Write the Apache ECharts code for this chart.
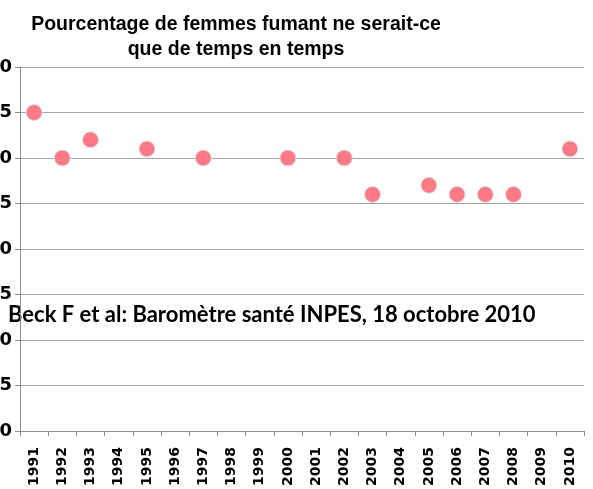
<!DOCTYPE html>
<html><head><meta charset="utf-8">
<script src="https://cdn.jsdelivr.net/npm/echarts@6/dist/echarts.min.js"></script>
<style>html,body{margin:0;padding:0;background:#fff}#c{width:593px;height:489px}</style>
</head><body><div id="c"></div>
<script>
const years = ['1991','1992','1993','1994','1995','1996','1997','1998','1999','2000','2001','2002','2003','2004','2005','2006','2007','2008','2009','2010'];
const values = [35, 30, 32, null, 31, null, 30, null, null, 30, null, 30, 26, null, 27, 26, 26, 26, null, 31];
const yMin = 0, yMax = 40, yStep = 5;
const titleText = 'Pourcentage de femmes fumant ne serait-ce\nque de temps en temps';
const sourceText = 'Beck F et al: Baromètre santé INPES, 18 octobre 2010';

const chart = echarts.init(document.getElementById('c'));
chart.setOption({
  animation: false,
  title: {
    text: titleText, left: 231, top: 7, textAlign: 'center',
    textStyle: {fontFamily: 'Liberation Sans, Arial', fontWeight: 'bold', fontSize: 19.5, lineHeight: 25, color: '#000'}
  },
  grid: {left: 20, right: 9, top: 67, bottom: 58, containLabel: false, outerBoundsMode: 'none'},
  xAxis: {
    type: 'category', data: years, boundaryGap: true,
    axisLine: {lineStyle: {color: '#8c8c8c', width: 1}},
    axisTick: {show: true, length: 5, alignWithLabel: false, lineStyle: {color: '#8c8c8c'}},
    axisLabel: {rotate: 90, interval: 0, margin: 16, color: '#000', fontFamily: 'DejaVu Sans', fontWeight: 'bold', fontSize: 14}
  },
  yAxis: {
    type: 'value', min: yMin, max: yMax, interval: yStep,
    axisLine: {show: true, lineStyle: {color: '#8c8c8c'}},
    axisTick: {show: true, length: 5, lineStyle: {color: '#8c8c8c'}},
    splitLine: {lineStyle: {color: '#a6a6a6', width: 1}},
    axisLabel: {margin: 8, color: '#000', fontFamily: 'DejaVu Sans', fontWeight: 'bold', fontSize: 18}
  },
  series: [{
    type: 'scatter', data: values, symbol: 'circle', symbolSize: 16,
    itemStyle: {color: '#FF7A85', borderColor: '#cfe3e6', borderWidth: 1, opacity: 1}
  }],
  graphic: [{
    type: 'text', x: 8, y: 315,
    style: {text: sourceText, fill: '#000', verticalAlign: 'middle', font: 'bold 22px Lato, "Liberation Sans", Arial'}
  }]
});
</script></body></html>
